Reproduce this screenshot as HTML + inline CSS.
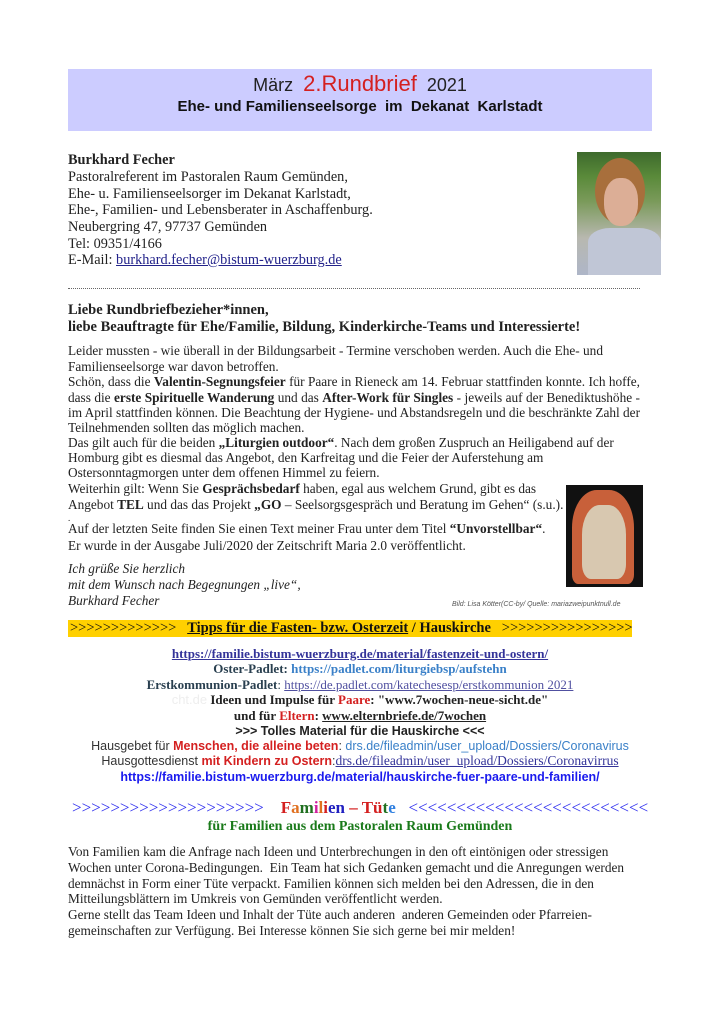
<!DOCTYPE html>
<html><head><meta charset="utf-8"><style>
body{margin:0;width:720px;height:1019px;background:#fff;position:relative;overflow:hidden;font-family:"Liberation Serif",serif;color:#222}
.l{position:absolute;left:68px;white-space:nowrap;font-size:13.3px;line-height:16px}
.j{width:572px;text-align:justify;text-align-last:justify}
.c{left:68px;width:584px;text-align:center}
.s{font-family:"Liberation Sans",sans-serif}
a{color:#22228a}
.red{color:#d42020}
.n{font-size:14.3px}
</style></head><body>
<div style="position:absolute;left:68px;top:69px;width:584px;height:62px;background:#ccccff"></div>
<div class="l c s" style="top:73px;font-size:18px;line-height:22px;color:#222">März&nbsp; <span class="red" style="font-size:22px">2.Rundbrief</span>&nbsp; 2021</div>
<div class="l c s" style="top:98px;font-size:15px;line-height:18px;font-weight:bold;color:#111">Ehe- und Familienseelsorge&nbsp; im&nbsp; Dekanat&nbsp; Karlstadt</div>

<div class="l n" style="top:152px;font-weight:bold">Burkhard Fecher</div>
<div class="l n" style="top:169px">Pastoralreferent im Pastoralen Raum Gemünden,</div>
<div class="l n" style="top:186px">Ehe- u. Familienseelsorger im Dekanat Karlstadt,</div>
<div class="l n" style="top:202px">Ehe-, Familien- und Lebensberater in Aschaffenburg.</div>
<div class="l n" style="top:219px">Neubergring 47, 97737 Gemünden</div>
<div class="l n" style="top:236px">Tel: 09351/4166</div>
<div class="l n" style="top:252px">E-Mail: <a href="#x">burkhard.fecher@bistum-wuerzburg.de</a></div>
<div style="position:absolute;left:577px;top:152px;width:84px;height:123px;background:linear-gradient(180deg,#3d6a2c 0%,#5a8a3a 20%,#7a9a5a 40%,#b8b8b0 70%,#aeb6c8 100%)"></div>
<div style="position:absolute;left:595px;top:158px;width:50px;height:66px;border-radius:50%;background:#a86f3c"></div>
<div style="position:absolute;left:604px;top:178px;width:34px;height:48px;border-radius:45%;background:#dcae96"></div>
<div style="position:absolute;left:588px;top:228px;width:73px;height:47px;border-radius:30% 30% 0 0;background:#c0c6d6"></div>
<div style="position:absolute;left:68px;top:288px;width:572px;border-top:1px dotted #666"></div>

<div class="l" style="top:302px;font-weight:bold;font-size:14.5px">Liebe Rundbriefbezieher*innen,</div>
<div class="l" style="top:319px;font-weight:bold;font-size:14.5px">liebe Beauftragte für Ehe/Familie, Bildung, Kinderkirche-Teams und Interessierte!</div>

<div class="l" style="top:343px">Leider mussten - wie überall in der Bildungsarbeit - Termine verschoben werden. Auch die Ehe- und</div>
<div class="l" style="top:359px">Familienseelsorge war davon betroffen.</div>
<div class="l j" style="top:374px">Schön, dass die <b>Valentin-Segnungsfeier</b> für Paare in Rieneck am 14. Februar stattfinden konnte. Ich hoffe,</div>
<div class="l j" style="top:390px">dass die <b>erste Spirituelle Wanderung</b> und das <b>After-Work für Singles</b> - jeweils auf der Benediktushöhe -</div>
<div class="l j" style="top:405px">im April stattfinden können. Die Beachtung der Hygiene- und Abstandsregeln und die beschränkte Zahl der</div>
<div class="l" style="top:420px">Teilnehmenden sollten das möglich machen.</div>
<div class="l" style="top:435px">Das gilt auch für die beiden <b>„Liturgien outdoor“</b>. Nach dem großen Zuspruch an Heiligabend auf der</div>
<div class="l" style="top:450px">Homburg gibt es diesmal das Angebot, den Karfreitag und die Feier der Auferstehung am</div>
<div class="l" style="top:465px">Ostersonntagmorgen unter dem offenen Himmel zu feiern.</div>
<div class="l" style="top:481px">Weiterhin gilt: Wenn Sie <b>Gesprächsbedarf</b> haben, egal aus welchem Grund, gibt es das</div>
<div class="l" style="top:497px">Angebot <b>TEL</b> und das das Projekt <b>„GO</b> – Seelsorgsgespräch und Beratung im Gehen“ (s.u.).</div>
<div class="l" style="top:510px;font-size:9px">.</div>
<div class="l" style="top:521px">Auf der letzten Seite finden Sie einen Text meiner Frau unter dem Titel <b>“Unvorstellbar“</b>.</div>
<div class="l" style="top:538px">Er wurde in der Ausgabe Juli/2020 der Zeitschrift Maria 2.0 veröffentlicht.</div>
<div class="l" style="top:561px;font-style:italic">Ich grüße Sie herzlich</div>
<div class="l" style="top:577px;font-style:italic">mit dem Wunsch nach Begegnungen „live“,</div>
<div class="l" style="top:593px;font-style:italic">Burkhard Fecher</div>
<div class="l s" style="left:452px;top:597px;font-size:7px;font-style:italic;color:#555">Bild: Lisa Kötter(CC-by/ Quelle: mariazweipunktnull.de</div>
<div style="position:absolute;left:566px;top:485px;width:77px;height:102px;background:#111"></div>
<div style="position:absolute;left:572px;top:490px;width:62px;height:94px;border-radius:40% 40% 10% 10%;background:#c8603a"></div>
<div style="position:absolute;left:582px;top:505px;width:44px;height:74px;border-radius:40% 40% 20% 20%;background:#d8c8b0"></div>

<div style="position:absolute;left:68px;top:620px;width:564px;height:17px;background:#ffd000"></div>
<div class="l" style="top:620px;left:70px;font-size:14.5px;line-height:17px;color:#111">&gt;&gt;&gt;&gt;&gt;&gt;&gt;&gt;&gt;&gt;&gt;&gt;&gt;&nbsp;&nbsp; <b><u>Tipps für die Fasten- bzw. Osterzeit</u> / Hauskirche</b> &nbsp;&nbsp;&gt;&gt;&gt;&gt;&gt;&gt;&gt;&gt;&gt;&gt;&gt;&gt;&gt;&gt;&gt;&gt;</div>

<div class="l c" style="top:646px;font-weight:bold;font-size:13px"><a href="#x" style="color:#333399">https://familie.bistum-wuerzburg.de/material/fastenzeit-und-ostern/</a></div>
<div class="l c" style="top:661px;font-weight:bold;color:#2a4050;font-size:13px">Oster-Padlet: <span style="color:#3a80c8">https://padlet.com/liturgiebsp/aufstehn</span></div>
<div class="l c" style="top:677px;color:#2a4050;font-size:13px"><b>Erstkommunion-Padlet</b>: <a href="#x" style="color:#5050a0">https://de.padlet.com/katechesesp/erstkommunion 2021</a></div>
<div class="l c" style="top:692px;font-weight:bold;color:#222;font-size:13px"><span class="s" style="color:#eee;font-weight:normal">cht.de</span> Ideen und Impulse für <span class="red">Paare</span>: "www.7wochen-neue-sicht.de"</div>
<div class="l c" style="top:708px;font-weight:bold;font-size:13px">und für <span class="red">Eltern</span>: <u>www.elternbriefe.de/7wochen</u></div>
<div class="l c s" style="top:723px;font-weight:bold;font-size:12.5px">&gt;&gt;&gt; Tolles Material für die Hauskirche &lt;&lt;&lt;</div>
<div class="l c s" style="top:738px;font-size:12.5px;color:#333">Hausgebet für <b class="red">Menschen, die alleine beten</b>: <span style="color:#3a80c8">drs.de/fileadmin/user_upload/Dossiers/Coronavirus</span></div>
<div class="l c s" style="top:753px;font-size:12.5px;color:#333">Hausgottesdienst <b class="red">mit Kindern zu Ostern</b>:<a href="#x" style="color:#333399;font-family:'Liberation Serif',serif;font-size:13.5px">drs.de/fileadmin/user_upload/Dossiers/Coronavirrus</a></div>
<div class="l c s" style="top:769px;font-size:12.5px;font-weight:bold;color:#1a1aee">https://familie.bistum-wuerzburg.de/material/hauskirche-fuer-paare-und-familien/</div>

<div class="l" style="top:798px;left:72px;font-size:17px;line-height:19px;color:#3333ee">&gt;&gt;&gt;&gt;&gt;&gt;&gt;&gt;&gt;&gt;&gt;&gt;&gt;&gt;&gt;&gt;&gt;&gt;&gt;&gt;&nbsp;&nbsp;&nbsp; <b><span style="color:#d42020">F</span><span style="color:#e07020">a</span><span style="color:#207020">m</span><span style="color:#d020a0">i</span><span style="color:#e07020">l</span><span style="color:#d42020">i</span><span style="color:#2020c0">en</span> <span style="color:#d42020">– Tü</span><span style="color:#207020">t</span><span style="color:#3080e0">e</span></b>&nbsp;&nbsp; &lt;&lt;&lt;&lt;&lt;&lt;&lt;&lt;&lt;&lt;&lt;&lt;&lt;&lt;&lt;&lt;&lt;&lt;&lt;&lt;&lt;&lt;&lt;&lt;&lt;</div>
<div class="l c" style="top:819px;font-weight:bold;color:#1a7a1a;font-size:14px">für Familien aus dem Pastoralen Raum Gemünden</div>

<div class="l" style="top:844px">Von Familien kam die Anfrage nach Ideen und Unterbrechungen in den oft eintönigen oder stressigen</div>
<div class="l" style="top:860px">Wochen unter Corona-Bedingungen.&nbsp; Ein Team hat sich Gedanken gemacht und die Anregungen werden</div>
<div class="l" style="top:876px">demnächst in Form einer Tüte verpackt. Familien können sich melden bei den Adressen, die in den</div>
<div class="l" style="top:891px">Mitteilungsblättern im Umkreis von Gemünden veröffentlicht werden.</div>
<div class="l" style="top:907px">Gerne stellt das Team Ideen und Inhalt der Tüte auch anderen&nbsp; anderen Gemeinden oder Pfarreien-</div>
<div class="l" style="top:923px">gemeinschaften zur Verfügung. Bei Interesse können Sie sich gerne bei mir melden!</div>
</body></html>
